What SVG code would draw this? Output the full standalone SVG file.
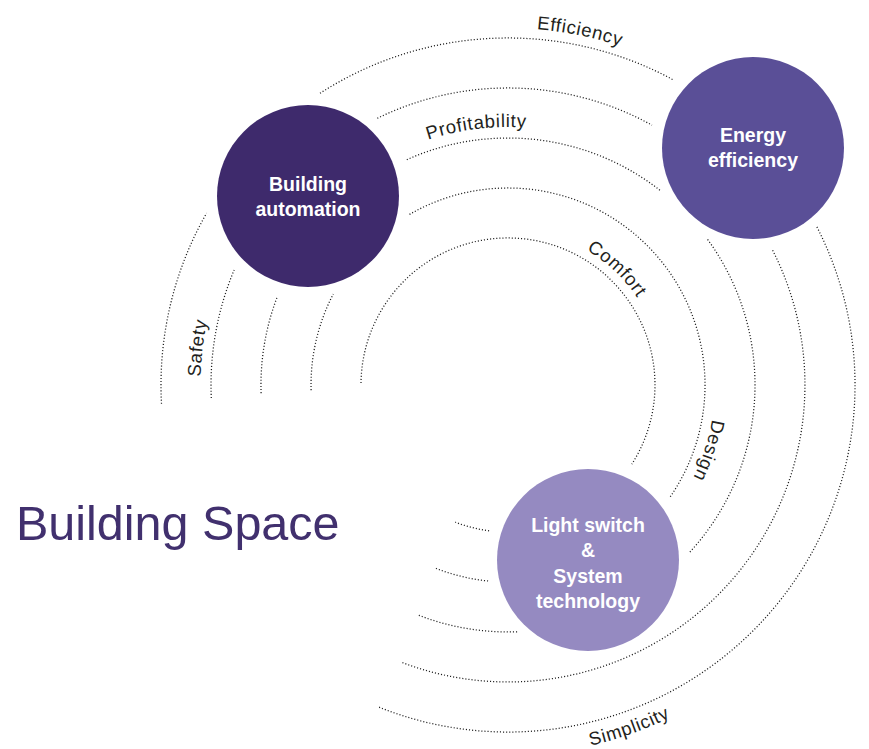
<svg xmlns="http://www.w3.org/2000/svg" xmlns:xlink="http://www.w3.org/1999/xlink" width="869" height="749" viewBox="0 0 869 749">
  <style>
    .arc { fill: none; stroke: #1e1e1e; stroke-width: 1.25; stroke-dasharray: 1.1 2; }
    .lbl { font-family: "Liberation Sans", Arial, sans-serif; font-size: 18.5px; fill: #231f20; letter-spacing: 0.7px; }
    .node-text { font-family: "Liberation Sans", Arial, sans-serif; font-size: 19.5px; font-weight: bold; fill: #ffffff; text-anchor: middle; }
    .title { font-family: "Liberation Sans", Arial, sans-serif; font-size: 48.5px; fill: #41306e; }
  </style>
  <defs>
    <path id="p-efficiency" d="M443 34 A357 357 0 0 1 705 87.3"/>
    <path id="p-profitability" d="M371.3 166.2 A258 258 0 0 1 587.7 139.6"/>
    <path id="p-comfort" d="M543.6 233.1 A156 156 0 0 1 657.3 339.9"/>
    <path id="p-design" d="M713.5 360.1 A207 207 0 0 1 659.2 526.4"/>
    <path id="p-safety" d="M208.6 455.2 A307.5 307.5 0 0 1 233.5 246.3"/>
    <path id="p-simplicity" d="M472.5 753.3 A370 370 0 0 0 767.3 648.9"/>
  </defs>
  <rect width="869" height="749" fill="#ffffff"/>

  <g id="connectors">
    <!-- ring 1 (r=147) -->
    <path class="arc" d="M361 383 A147 147 0 1 1 631.8 464.2"/>
    <path class="arc" d="M489.1 530.8 A147 147 0 0 1 455.3 522.2"/>
    <!-- ring 2 (r=197) -->
    <path class="arc" d="M311.1 390.2 A197 197 0 0 1 333.3 294"/>
    <path class="arc" d="M409.5 214.4 A197 197 0 0 1 669.6 497.7"/>
    <path class="arc" d="M488.1 581 A197 197 0 0 1 435.8 568.3"/>
    <!-- ring 3 (r=247) -->
    <path class="arc" d="M261.1 393.2 A247 247 0 0 1 277.4 296.5"/>
    <path class="arc" d="M406.8 159.7 A247 247 0 0 1 661.4 191.4"/>
    <path class="arc" d="M707.6 239.4 A247 247 0 0 1 688.9 553.1"/>
    <path class="arc" d="M517.1 631.8 A247 247 0 0 1 418.3 615.1"/>
    <!-- ring 4 (r=297) -->
    <path class="arc" d="M211.3 398 A297 297 0 0 1 234.2 269.9"/>
    <path class="arc" d="M377.3 118.3 A297 297 0 0 1 652 125.2"/>
    <path class="arc" d="M772.6 250.2 A297 297 0 0 1 400.6 661.9"/>
    <!-- ring 5 (r=347) -->
    <path class="arc" d="M161.5 403.8 A347 347 0 0 1 206.6 213.1"/>
    <path class="arc" d="M320 93.3 A347 347 0 0 1 674.1 80.3"/>
    <path class="arc" d="M816.9 226.9 A347 347 0 0 1 379.1 707.2"/>
  </g>

  <g id="labels">
    <text class="lbl"><textPath href="#p-efficiency" xlink:href="#p-efficiency" startOffset="50%" text-anchor="middle">Efficiency</textPath></text>
    <text class="lbl"><textPath href="#p-profitability" xlink:href="#p-profitability" startOffset="50%" text-anchor="middle">Profitability</textPath></text>
    <text class="lbl"><textPath href="#p-comfort" xlink:href="#p-comfort" startOffset="50%" text-anchor="middle">Comfort</textPath></text>
    <text class="lbl"><textPath href="#p-design" xlink:href="#p-design" startOffset="50%" text-anchor="middle">Design</textPath></text>
    <text class="lbl"><textPath href="#p-safety" xlink:href="#p-safety" startOffset="50%" text-anchor="middle">Safety</textPath></text>
    <text class="lbl"><textPath href="#p-simplicity" xlink:href="#p-simplicity" startOffset="50%" text-anchor="middle">Simplicity</textPath></text>
  </g>

  <g id="node-building-automation">
    <circle cx="308" cy="196" r="91" fill="#3e2a6c"/>
    <text class="node-text" x="308" y="191">Building</text>
    <text class="node-text" x="308" y="216">automation</text>
  </g>

  <g id="node-energy-efficiency">
    <circle cx="753" cy="148" r="91" fill="#5a4f97"/>
    <text class="node-text" x="753" y="142">Energy</text>
    <text class="node-text" x="753" y="167">efficiency</text>
  </g>

  <g id="node-light-switch">
    <circle cx="588" cy="560" r="91" fill="#958ac1"/>
    <text class="node-text" x="588" y="532">Light switch</text>
    <text class="node-text" x="588" y="557">&amp;</text>
    <text class="node-text" x="588" y="583">System</text>
    <text class="node-text" x="588" y="607.5">technology</text>
  </g>

  <g id="title">
    <text class="title" x="16" y="540">Building Space</text>
  </g>
</svg>
